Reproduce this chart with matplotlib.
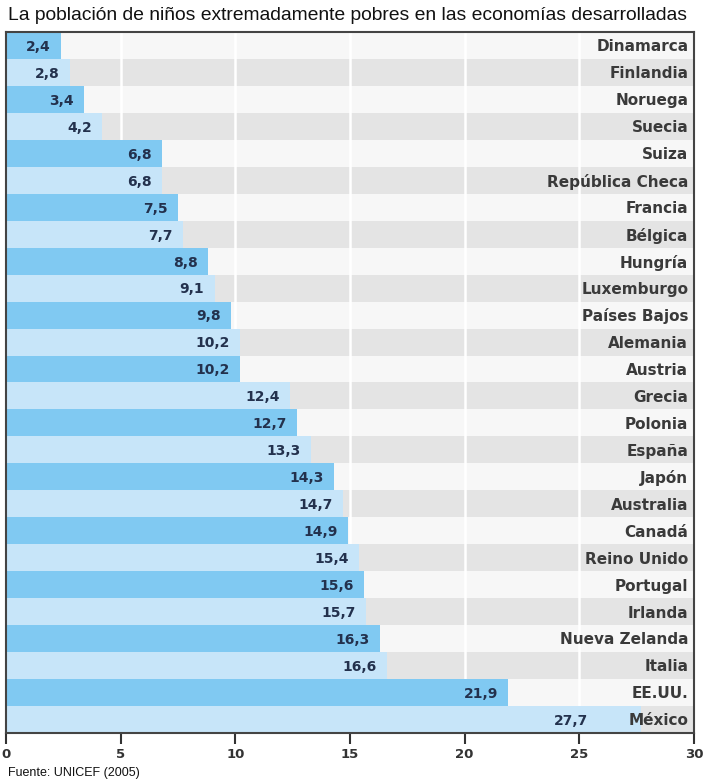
import matplotlib.pyplot as plt
from matplotlib.patches import Rectangle

plt.rcParams['font.family'] = ['Liberation Sans', 'DejaVu Sans']

countries = ['Dinamarca', 'Finlandia', 'Noruega', 'Suecia', 'Suiza',
             'República Checa', 'Francia', 'Bélgica', 'Hungría', 'Luxemburgo',
             'Países Bajos', 'Alemania', 'Austria', 'Grecia', 'Polonia',
             'España', 'Japón', 'Australia', 'Canadá', 'Reino Unido',
             'Portugal', 'Irlanda', 'Nueva Zelanda', 'Italia', 'EE.UU.', 'México']
values = [2.4, 2.8, 3.4, 4.2, 6.8, 6.8, 7.5, 7.7, 8.8, 9.1, 9.8, 10.2, 10.2,
          12.4, 12.7, 13.3, 14.3, 14.7, 14.9, 15.4, 15.6, 15.7, 16.3, 16.6,
          21.9, 27.7]
ticks = [0, 5, 10, 15, 20, 25, 30]

title = 'La población de niños extremadamente pobres en las economías desarrolladas'
source = 'Fuente: UNICEF (2005)'

fig = plt.figure(figsize=(7.04, 7.82), dpi=100)
ax = fig.add_axes([6 / 704, 1 - 733 / 782, 688 / 704, 701 / 782])

n = len(countries)
ax.set_xlim(0, 30)
ax.set_ylim(n - 0.5, -0.5)

# alternating row backgrounds
for i in range(n):
    bg = '#f7f7f7' if i % 2 == 0 else '#e4e4e4'
    ax.add_patch(Rectangle((0, i - 0.5), 30, 1, facecolor=bg, edgecolor='none', zorder=0))

for t in ticks[1:-1]:
    ax.axvline(t, color='white', lw=1.8, zorder=1)

colors = ['#80c9f2' if i % 2 == 0 else '#c7e5f9' for i in range(n)]
ax.barh(range(n), values, height=1.0, color=colors, edgecolor='none', zorder=2)

for i, (c, v) in enumerate(zip(countries, values)):
    ax.text(min(v - 0.45, 25.4), i + 0.05, f'{v:.1f}'.replace('.', ','),
            ha='right', va='center', fontsize=10, family='DejaVu Sans',
            fontweight='bold', color='#23314d', zorder=3)
    ax.text(29.75, i + 0.05, c, ha='right', va='center', fontsize=11,
            family='DejaVu Sans', fontweight='bold', color='#3a3a3a', zorder=3)

ax.set_yticks([])
ax.set_xticks(ticks)
ax.set_xticklabels([str(t) for t in ticks], fontsize=9.5, family='DejaVu Sans',
                   fontweight='bold', color='#333333')
ax.tick_params(axis='x', direction='out', length=8, width=1.5, color='#333333', pad=3)
for s in ax.spines.values():
    s.set_color('#444444')
    s.set_linewidth(1.5)
    s.set_zorder(4)

fig.text(8 / 704, 1 - 16 / 782, title, ha='left', va='center', fontsize=13.9, color='#111111')
fig.text(8 / 704, 1 - 773 / 782, source, ha='left', va='center', fontsize=9, color='#111111')

fig.savefig('out.png', dpi=100)
